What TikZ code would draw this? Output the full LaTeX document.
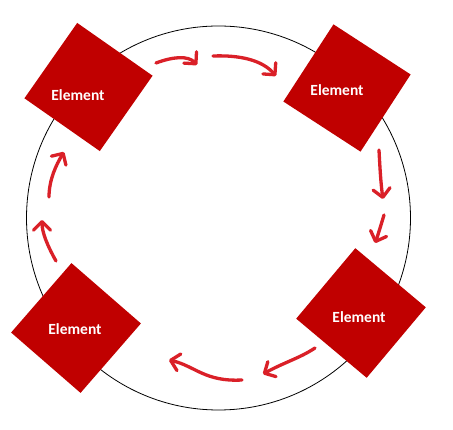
\documentclass[tikz,border=0pt]{standalone}
\usepackage{fontspec}
\setmainfont{Carlito}
\usetikzlibrary{arrows.meta}
\definecolor{boxred}{RGB}{192,0,0}
\definecolor{penred}{RGB}{218,32,40}
\tikzset{
  sq/.style={fill=boxred, draw=none, minimum size=92pt, inner sep=0pt},
  lbl/.style={text=white, font=\bfseries\fontsize{15.5}{17}\selectfont, inner sep=0pt},
  pen/.style={draw=penred, line width=3.3pt, line cap=round, line join=round,
    -{Straight Barb[length=8.5pt,width=17pt,round]}},
  ring/.style={draw=black, line width=0.8pt}
}
\begin{document}
\begin{tikzpicture}[x=1pt,y=-1pt]
\useasboundingbox (0,0) rectangle (453,430);
\fill[white] (0,0) rectangle (453,430);
\node[ring, circle, minimum size=384pt, inner sep=0pt] (c) at (218.5,218) {};
% squares
\node[sq, rotate=-35] (s1) at (88.5,87) {};
\node[sq, rotate=-33] (s2) at (347,88) {};
\node[sq, rotate=-40] (s3) at (361,313) {};
\node[sq, rotate=-41] (s4) at (76,328) {};
\node[lbl] (t1) at (78,95) {Element};
\node[lbl] (t2) at (337,90) {Element};
\node[lbl] (t3) at (359,317) {Element};
\node[lbl] (t4) at (75,329) {Element};
% arrow endpoints
\coordinate (a1s) at (156,63);  \coordinate (a1e) at (197,65);
\coordinate (a2s) at (213,56);  \coordinate (a2e) at (276,76);
\coordinate (a3s) at (379,150); \coordinate (a3e) at (383,199);
\coordinate (a4s) at (384,215); \coordinate (a4e) at (375,243);
\coordinate (a5s) at (315,348); \coordinate (a5e) at (263,374);
\coordinate (a6s) at (242,380); \coordinate (a6e) at (169,360);
\coordinate (a7s) at (56,261);  \coordinate (a7e) at (42,220);
\coordinate (a8s) at (49,197);  \coordinate (a8e) at (64,152);
\draw[pen] (a1s) .. controls (172,57) and (188,55) .. (a1e);
\draw[pen] (a2s) .. controls (240,55) and (262,60) .. (a2e);
\draw[pen] (a3s) .. controls (380,170) and (381,185) .. (a3e);
\draw[pen] (a4s) .. controls (381,225) and (378,235) .. (a4e);
\draw[pen] (a5s) .. controls (300,358) and (285,362) .. (a5e);
\draw[pen] (a6s) .. controls (205,382) and (195,366) .. (a6e);
\draw[pen] (a7s) .. controls (47,245) and (42,232) .. (a7e);
\draw[pen] (a8s) .. controls (49,180) and (56,165) .. (a8e);
\end{tikzpicture}
\end{document}
